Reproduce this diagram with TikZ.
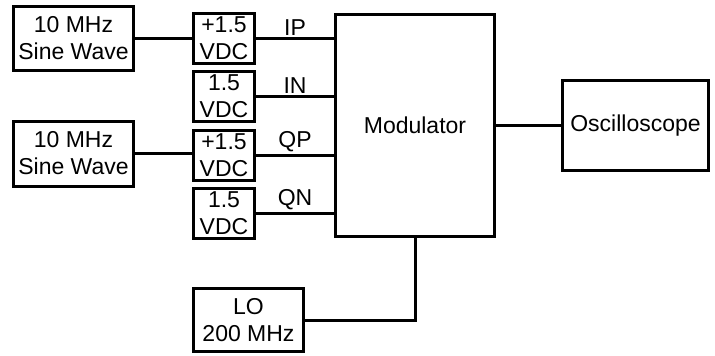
\documentclass[tikz,border=0pt]{standalone}
\usepackage{fontspec}
\setmainfont{Liberation Sans}
\begin{document}
\begin{tikzpicture}[x=1pt,y=-1pt,
  box/.style={draw, line width=3pt, inner sep=0pt, outer sep=0pt, align=center,
    font=\fontsize{23}{27}\selectfont},
  wire/.style={line width=3pt},
  lbl/.style={font=\fontsize{23}{27}\selectfont, inner sep=2pt}]
\useasboundingbox (0,0) rectangle (715,356);
\node[box, minimum width=120pt, minimum height=64pt] (sine1) at (73.5,38.5) {10 MHz\\Sine Wave};
\node[box, minimum width=120pt, minimum height=65pt] (sine2) at (73.5,153.5) {10 MHz\\Sine Wave};
\node[box, minimum width=61pt, minimum height=50pt] (vdc1) at (224,38.5) {+1.5\\VDC};
\node[box, minimum width=61pt, minimum height=50pt] (vdc2) at (224,96.5) {1.5\\VDC};
\node[box, minimum width=61pt, minimum height=50pt] (vdc3) at (224,155.5) {+1.5\\VDC};
\node[box, minimum width=61pt, minimum height=50pt] (vdc4) at (224,213.5) {1.5\\VDC};
\node[box, minimum width=159pt, minimum height=222pt] (mod) at (415,125.5) {Modulator};
\node[box, minimum width=146pt, minimum height=90pt] (osc) at (635.5,125.5) {Oscilloscope};
\node[box, minimum width=110pt, minimum height=63pt] (lo) at (248.5,320) {LO\\200 MHz};
\draw[wire] (sine1.east) -- (sine1.east -| vdc1.west);
\draw[wire] (sine2.east) -- (sine2.east -| vdc3.west);
\draw[wire] (vdc1.east) -- node[lbl, midway, above] {IP} (vdc1.east -| mod.west);
\draw[wire] (vdc2.east) -- node[lbl, midway, above] {IN} (vdc2.east -| mod.west);
\draw[wire] (vdc3.east) -- node[lbl, midway, above] {QP} (vdc3.east -| mod.west);
\draw[wire] (vdc4.east) -- node[lbl, midway, above] {QN} (vdc4.east -| mod.west);
\draw[wire] (mod.east) -- (osc.west);
\draw[wire] (lo.east) -| (mod.south);
\end{tikzpicture}
\end{document}
